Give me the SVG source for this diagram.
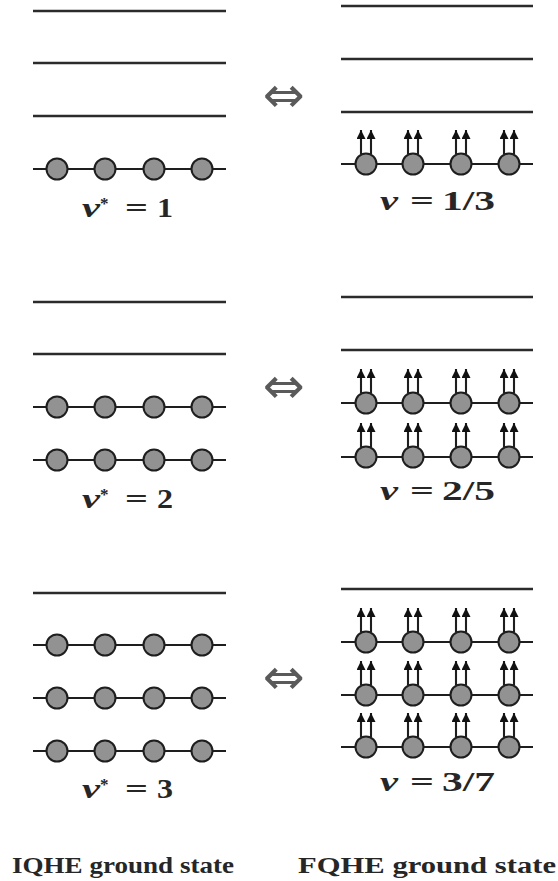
<svg xmlns="http://www.w3.org/2000/svg" xmlns:xlink="http://www.w3.org/1999/xlink" width="558" height="881" viewBox="0 0 558 881">
<style>
.lv{stroke:#2b2b2b;stroke-width:2.4;fill:none}
.row{stroke:#1e1e1e;stroke-width:1.8;fill:none}
.el{fill:#929292;stroke:#1e1e1e;stroke-width:2}
.ar{stroke:#1e1e1e;stroke-width:2.1;fill:none}
.lab{font-family:"Liberation Serif",serif;font-weight:bold;font-size:27px;fill:#262626}
.nu{font-style:italic}
.sup{font-size:17px}
.eqv{font-family:"DejaVu Sans",sans-serif;font-size:50px;fill:#5a5a5a}
.cap{font-family:"Liberation Serif",serif;font-weight:bold;font-size:24px;fill:#262626}
</style>
<defs>
<marker id="ah" viewBox="0 0 9 9" refX="9" refY="4.5" markerWidth="9" markerHeight="9" markerUnits="userSpaceOnUse" orient="auto">
<path d="M0,0 L9,4.5 L0,9 Z" fill="#111"/>
</marker>
<g id="e"><circle class="el" cx="0" cy="0" r="10.5"/></g>
<g id="cf">
<line class="ar" x1="-5" y1="-10" x2="-5" y2="-34" marker-end="url(#ah)"/>
<line class="ar" x1="5" y1="-10" x2="5" y2="-34" marker-end="url(#ah)"/>
<circle class="el" cx="0" cy="0" r="10.5"/>
</g>
<g id="erow">
<line class="row" x1="33" y1="0" x2="226" y2="0"/>
<use xlink:href="#e" x="57"/><use xlink:href="#e" x="105"/><use xlink:href="#e" x="154"/><use xlink:href="#e" x="202"/>
</g>
<g id="cfrow">
<line class="row" x1="341" y1="0" x2="533" y2="0"/>
<use xlink:href="#cf" x="366"/><use xlink:href="#cf" x="413"/><use xlink:href="#cf" x="461"/><use xlink:href="#cf" x="509"/>
</g>
</defs>

<g id="iqhe1">
<line class="lv" x1="33" y1="11" x2="226" y2="11"/>
<line class="lv" x1="33" y1="63" x2="226" y2="63"/>
<line class="lv" x1="33" y1="116" x2="226" y2="116"/>
<use xlink:href="#erow" y="169"/>
<text class="lab nu" x="82" y="217" textLength="18" lengthAdjust="spacingAndGlyphs">ν</text>
<text class="lab sup" x="100" y="209">*</text>
<text class="lab" x="125" y="217" textLength="23" lengthAdjust="spacingAndGlyphs">=</text>
<text class="lab" x="157" y="217" textLength="16" lengthAdjust="spacingAndGlyphs">1</text>
</g>

<g id="iqhe2">
<line class="lv" x1="33" y1="302" x2="226" y2="302"/>
<line class="lv" x1="33" y1="354" x2="226" y2="354"/>
<use xlink:href="#erow" y="407"/>
<use xlink:href="#erow" y="460"/>
<text class="lab nu" x="82" y="508" textLength="18" lengthAdjust="spacingAndGlyphs">ν</text>
<text class="lab sup" x="100" y="500">*</text>
<text class="lab" x="125" y="508" textLength="23" lengthAdjust="spacingAndGlyphs">=</text>
<text class="lab" x="157" y="508" textLength="16" lengthAdjust="spacingAndGlyphs">2</text>
</g>

<g id="iqhe3">
<line class="lv" x1="33" y1="593" x2="226" y2="593"/>
<use xlink:href="#erow" y="645"/>
<use xlink:href="#erow" y="698"/>
<use xlink:href="#erow" y="751"/>
<text class="lab nu" x="82" y="798" textLength="18" lengthAdjust="spacingAndGlyphs">ν</text>
<text class="lab sup" x="100" y="790">*</text>
<text class="lab" x="125" y="798" textLength="23" lengthAdjust="spacingAndGlyphs">=</text>
<text class="lab" x="157" y="798" textLength="16" lengthAdjust="spacingAndGlyphs">3</text>
</g>

<g id="fqhe1">
<line class="lv" x1="341" y1="6" x2="533" y2="6"/>
<line class="lv" x1="341" y1="59" x2="533" y2="59"/>
<line class="lv" x1="341" y1="112" x2="533" y2="112"/>
<use xlink:href="#cfrow" y="164"/>
<text class="lab nu" x="380" y="210" textLength="18" lengthAdjust="spacingAndGlyphs">ν</text>
<text class="lab" x="410" y="210" textLength="24" lengthAdjust="spacingAndGlyphs">=</text>
<text class="lab" x="442" y="210" textLength="53" lengthAdjust="spacingAndGlyphs">1/3</text>
</g>

<g id="fqhe2">
<line class="lv" x1="341" y1="297" x2="533" y2="297"/>
<line class="lv" x1="341" y1="350" x2="533" y2="350"/>
<use xlink:href="#cfrow" y="403"/>
<use xlink:href="#cfrow" y="457"/>
<text class="lab nu" x="380" y="500" textLength="18" lengthAdjust="spacingAndGlyphs">ν</text>
<text class="lab" x="410" y="500" textLength="24" lengthAdjust="spacingAndGlyphs">=</text>
<text class="lab" x="442" y="500" textLength="53" lengthAdjust="spacingAndGlyphs">2/5</text>
</g>

<g id="fqhe3">
<line class="lv" x1="341" y1="589" x2="533" y2="589"/>
<use xlink:href="#cfrow" y="642"/>
<use xlink:href="#cfrow" y="695"/>
<use xlink:href="#cfrow" y="747"/>
<text class="lab nu" x="380" y="791" textLength="18" lengthAdjust="spacingAndGlyphs">ν</text>
<text class="lab" x="410" y="791" textLength="24" lengthAdjust="spacingAndGlyphs">=</text>
<text class="lab" x="442" y="791" textLength="53" lengthAdjust="spacingAndGlyphs">3/7</text>
</g>

<g id="connectors">
<text class="eqv" x="284" y="112" text-anchor="middle">⇔</text>
<text class="eqv" x="284" y="403" text-anchor="middle">⇔</text>
<text class="eqv" x="284" y="694" text-anchor="middle">⇔</text>
</g>

<g id="captions">
<text class="cap" x="12" y="873" textLength="222" lengthAdjust="spacingAndGlyphs">IQHE ground state</text>
<text class="cap" x="298" y="873" textLength="258" lengthAdjust="spacingAndGlyphs">FQHE ground state</text>
</g>
</svg>
